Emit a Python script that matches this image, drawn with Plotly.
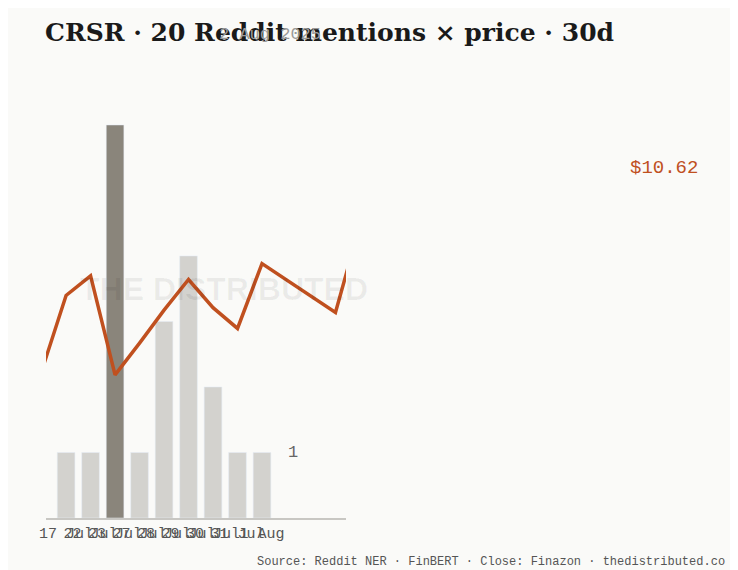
import plotly.graph_objects as go

dates = ["17 Jul", "22 Jul", "23 Jul", "27 Jul", "28 Jul", "29 Jul", "30 Jul", "31 Jul", "1 Aug"]
mentions = [1, 1, 6, 1, 3, 4, 2, 1, 1]
peak_day = "23 Jul"

price_x = [-1, 0, 1, 2, 3, 4, 5, 6, 7, 8, 11, 12]
price = [9.42, 10.04, 10.20, 9.39, 9.65, 9.92, 10.17, 9.94, 9.77, 10.30, 9.90, 10.62]

bar_x = list(range(len(dates)))
bar_colors = ["#8a857b" if d == peak_day else "#d3d2ce" for d in dates]

fig = go.Figure()
fig.add_trace(go.Bar(x=bar_x, y=mentions, marker_color=bar_colors, width=0.72, yaxis="y"))
fig.add_trace(go.Scatter(x=price_x, y=price, mode="lines", yaxis="y2",
                         line=dict(color="#c0501f", width=3.5), cliponaxis=True))

fig.update_layout(
    width=738, height=570, showlegend=False,
    paper_bgcolor="#fafaf8", plot_bgcolor="#fafaf8",
    margin=dict(l=38, r=400, t=115, b=60),
    xaxis=dict(range=[-0.82, 11.43], tickvals=bar_x, ticktext=dates, showgrid=False,
               showline=True, linecolor="#c8c7c3", linewidth=1.5, zeroline=False, tickangle=0,
               tickfont=dict(family="Liberation Mono", size=15, color="#555"), ticks=""),
    yaxis=dict(range=[0, 6.03], visible=False),
    yaxis2=dict(range=[8.22, 11.45], overlaying="y", visible=False),
    bargap=0.3,
)

fig.add_annotation(text="<b>CRSR · 20 Reddit mentions × price · 30d</b>", xref="paper", yref="paper",
                   x=-0.01, y=1.23, xanchor="left", yanchor="middle", showarrow=False,
                   font=dict(family="DejaVu Serif", size=25, color="#1a1a1a"))
fig.add_annotation(text="2 Aug 2025", xref="paper", yref="paper", x=0.57, y=1.225,
                   xanchor="left", yanchor="middle", showarrow=False,
                   font=dict(family="Liberation Mono", size=17, color="#999"))
fig.add_annotation(text="<b>THE DISTRIBUTED</b>", xref="paper", yref="paper", x=1.08, y=0.58,
                   showarrow=False, font=dict(family="Liberation Sans", size=32, color="rgba(0,0,0,0.06)"))
fig.add_annotation(text="$10.62", xref="paper", yref="paper", x=2.18, y=0.92,
                   xanchor="right", showarrow=False,
                   font=dict(family="Liberation Mono", size=19, color="#c0501f"))
fig.add_annotation(text="1", x=9.0, y=1, xref="x", yref="y", xanchor="left", showarrow=False,
                   font=dict(family="Liberation Mono", size=17, color="#666"))
fig.add_annotation(text="Source: Reddit NER · FinBERT · Close: Finazon · thedistributed.co",
                   xref="paper", yref="paper", x=2.27, y=-0.135, xanchor="right", showarrow=False,
                   font=dict(family="Liberation Mono", size=12, color="#555"))

fig.write_html("out.html")
